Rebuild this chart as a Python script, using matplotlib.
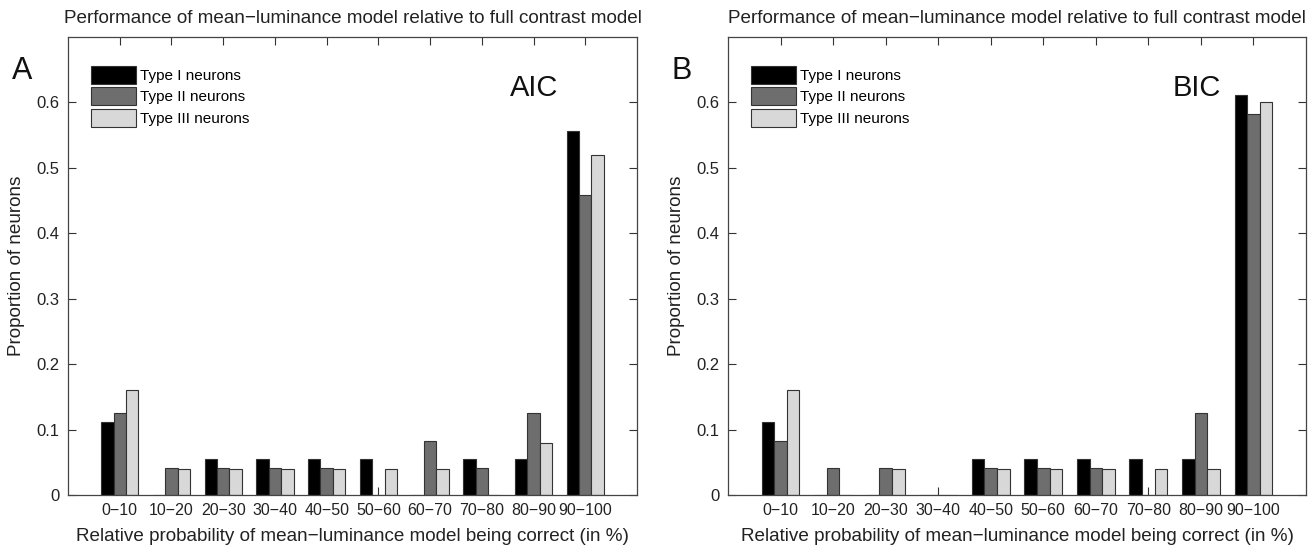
import numpy as np
import matplotlib
matplotlib.use("Agg")
import matplotlib.pyplot as plt

plt.rcParams['font.family'] = ['Liberation Sans', 'DejaVu Sans']

# categorias do eixo x
bins = ["0−10", "10−20", "20−30", "30−40", "40−50",
        "50−60", "60−70", "70−80", "80−90", "90−100"]
series_names = ["Type I neurons", "Type II neurons", "Type III neurons"]

# painel A (AIC)
aic_type1 = [0.111, 0, 0.0556, 0.0556, 0.0556, 0.0556, 0, 0.0556, 0.0556, 0.556]
aic_type2 = [0.125, 0.0417, 0.0417, 0.0417, 0.0417, 0, 0.0833, 0.0417, 0.125, 0.458]
aic_type3 = [0.16, 0.04, 0.04, 0.04, 0.04, 0.04, 0.04, 0, 0.08, 0.52]

# painel B (BIC)
bic_type1 = [0.111, 0, 0, 0, 0.0556, 0.0556, 0.0556, 0.0556, 0.0556, 0.611]
bic_type2 = [0.0833, 0.0417, 0.0417, 0, 0.0417, 0.0417, 0.0417, 0, 0.125, 0.583]
bic_type3 = [0.16, 0, 0.04, 0, 0.04, 0.04, 0.04, 0.04, 0.04, 0.60]

colors = ["#000000", "#6e6e6e", "#d8d8d8"]
title = "Performance of mean−luminance model relative to full contrast model"
xlabel = "Relative probability of mean−luminance model being correct (in %)"

fig = plt.figure(figsize=(13.16, 5.46), dpi=100)
axA = fig.add_axes([0.0517, 0.0934, 0.4323, 0.8388])
axB = fig.add_axes([0.5532, 0.0934, 0.4392, 0.8388])


def draw_panel(ax, data, letter, crit, crit_x):
    x = np.arange(1, len(bins) + 1)
    w = 0.24
    for i, vals in enumerate(data):
        ax.bar(x + (i - 1) * w, vals, width=w, color=colors[i],
               edgecolor="#333333", linewidth=0.8, label=series_names[i])
    ax.set_axisbelow(True)
    ax.set_xlim(0, 11)
    ax.set_ylim(0, 0.7)
    ax.set_xticks(x)
    ax.set_xticklabels(bins, fontsize=11.5)
    ax.set_yticks([0, 0.1, 0.2, 0.3, 0.4, 0.5, 0.6])
    ax.set_yticklabels(["0", "0.1", "0.2", "0.3", "0.4", "0.5", "0.6"], fontsize=12)
    ax.tick_params(direction="in", top=True, right=True, length=6, width=0.8,
                   pad=6, colors="#333333", labelcolor="#222222")
    for s in ax.spines.values():
        s.set_linewidth(0.9)
        s.set_color("#444444")
    ax.set_title(title, fontsize=13.6, pad=10, color="#222222")
    ax.set_xlabel(xlabel, fontsize=13.6, labelpad=7, color="#222222")
    ax.set_ylabel("Proportion of neurons", fontsize=13.6, labelpad=8, color="#222222")
    ax.text(crit_x, 0.889, crit, transform=ax.transAxes, fontsize=21,
            ha="center", va="center", color="#111111")
    ax.text(-0.08, 0.925, letter, transform=ax.transAxes, fontsize=22,
            ha="center", va="center", color="#111111")
    ax.legend(loc="upper left", bbox_to_anchor=(0.03, 0.95), fontsize=11,
              frameon=False, handlelength=2.9, handleheight=1.4,
              labelspacing=0.25, handletextpad=0.3, borderaxespad=0)


draw_panel(axA, [aic_type1, aic_type2, aic_type3], "A", "AIC", 0.819)
draw_panel(axB, [bic_type1, bic_type2, bic_type3], "B", "BIC", 0.811)

fig.savefig("out.png", dpi=100)
